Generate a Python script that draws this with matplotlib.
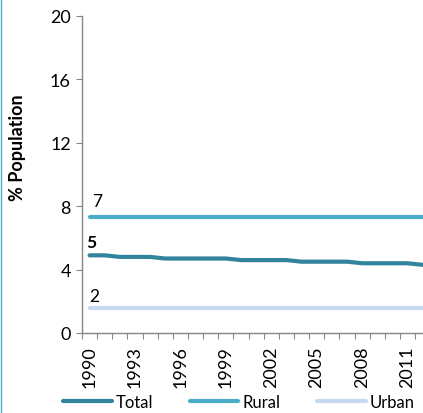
import matplotlib

matplotlib.use("Agg")
import matplotlib.pyplot as plt  # noqa: E402
from matplotlib.lines import Line2D  # noqa: E402

plt.rcParams["font.family"] = ["Lato", "DejaVu Sans"]

# --- data ---
years = list(range(1990, 2013))
total = [4.9, 4.9, 4.8, 4.8, 4.8, 4.7, 4.7, 4.7, 4.7, 4.7, 4.6, 4.6,
         4.6, 4.6, 4.5, 4.5, 4.5, 4.5, 4.4, 4.4, 4.4, 4.4, 4.3]
rural = [7.3] * len(years)
urban = [1.55] * len(years)
labelled_years = list(range(1990, 2012, 3))
y_ticks = [0, 4, 8, 12, 16, 20]

C_TOTAL = "#31849B"
C_RURAL = "#4BACC6"
C_URBAN = "#C6D9F1"
C_AXIS = "#868686"

fig = plt.figure(figsize=(4.23, 4.14), dpi=100)
ax = fig.add_axes([82 / 423, 1 - 334 / 414, 1 - 82 / 423, (334 - 17) / 414])

for vals, col, name in [(total, C_TOTAL, "Total"), (rural, C_RURAL, "Rural"), (urban, C_URBAN, "Urban")]:
    ax.plot(years, vals, color=col, lw=3.0, solid_capstyle="round", label=name, clip_on=False)

# first-point value labels
ax.text(1990.5, 8.3, f"{rural[0]:.0f}", ha="center", va="center", fontsize=12.5)
ax.text(1990.1, 5.75, f"{total[0]:.0f}", ha="center", va="center", fontsize=12.5, fontweight="bold")
ax.text(1990.3, 2.35, f"{urban[0]:.0f}", ha="center", va="center", fontsize=12.5)

ax.set_xlim(1989.5, 2012.02)
ax.set_ylim(0, 20)
ax.set_yticks(y_ticks)
ax.set_xticks(labelled_years)
ax.set_xticklabels([str(y) for y in labelled_years], rotation=90)
ax.set_xticks([y - 0.5 for y in years], minor=True)
ax.tick_params(axis="x", which="major", length=0, pad=9, labelsize=13)
ax.tick_params(axis="x", which="minor", length=4, width=0.8, color=C_AXIS, direction="out")
ax.tick_params(axis="y", length=4, width=0.8, color=C_AXIS, labelsize=13, pad=4)

for side in ("top", "right"):
    ax.spines[side].set_visible(False)
for side in ("left", "bottom"):
    ax.spines[side].set_color(C_AXIS)
    ax.spines[side].set_linewidth(1.0)

fig.text(17 / 423, 1 - 148 / 414, "% Population", rotation=90, ha="center", va="center",
         fontsize=13, fontweight="bold")

fig.legend(loc="center", bbox_to_anchor=(239 / 423, 1 - 403 / 414), ncol=3, frameon=False,
           fontsize=12, handlelength=2.9, columnspacing=2.2, handletextpad=0.25,
           borderaxespad=0, borderpad=0)

# thin border on the left edge
fig.add_artist(Line2D([0.003, 0.003], [0, 1], transform=fig.transFigure, color=C_RURAL, lw=1.0))

fig.savefig("out.png", dpi=100)
plt.close(fig)
